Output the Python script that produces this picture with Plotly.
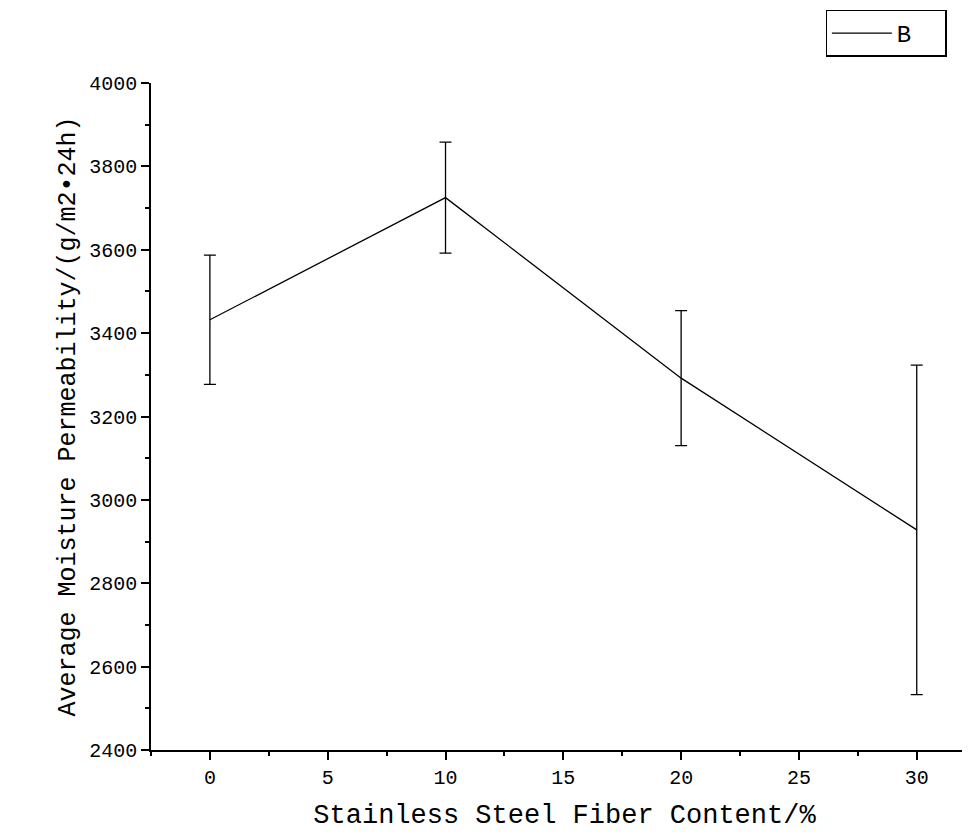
import plotly.graph_objects as go

fiber_content = [0, 10, 20, 30]
permeability = [3432, 3725, 3292, 2928]
error = [155, 133, 162, 395]

fig = go.Figure()
fig.add_trace(go.Scatter(
    x=fiber_content, y=permeability, mode="lines", name="B  ",
    line=dict(color="black", width=1.3),
    error_y=dict(type="data", array=error, color="black", thickness=1.3, width=6),
))

font = "Liberation Mono, DejaVu Sans Mono, monospace"
fig.update_layout(
    width=970, height=836,
    margin=dict(l=143, r=0, t=75, b=94, autoexpand=False),
    plot_bgcolor="white", paper_bgcolor="white",
    font=dict(family=font, color="black", size=20),
    showlegend=True,
    legend=dict(x=0.962, y=1.11, xanchor="right", yanchor="top",
                bordercolor="black", borderwidth=1.3, font=dict(size=24),
                bgcolor="white", itemwidth=60),
    xaxis=dict(range=[-2.5, 32.6], tickvals=[0, 5, 10, 15, 20, 25, 30],
               automargin=False,
               showline=True, linecolor="black", linewidth=1.5,
               ticks="outside", ticklen=8, tickwidth=1.5, tickcolor="black",
               minor=dict(ticks="outside", ticklen=4, dtick=2.5, tickcolor="black"),
               showgrid=False, zeroline=False,
               title=dict(text="Stainless Steel Fiber Content/%", font=dict(size=27))),
    yaxis=dict(range=[2400, 4000], dtick=200, automargin=False,
               showline=True, linecolor="black", linewidth=1.5,
               ticks="outside", ticklen=8, tickwidth=1.5, tickcolor="black",
               minor=dict(ticks="outside", ticklen=4, dtick=100, tickcolor="black"),
               showgrid=False, zeroline=False,
               title=dict(text="Average Moisture Permeability/(g/m2•24h)",
                          font=dict(size=25), standoff=6)),
)

fig.write_html("out.html")
